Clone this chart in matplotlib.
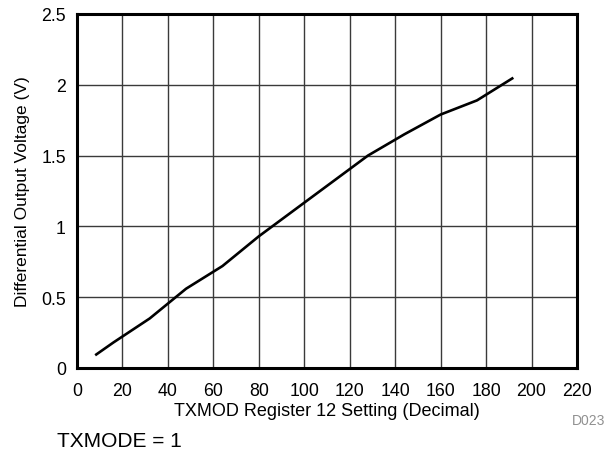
import matplotlib
matplotlib.use("Agg")
import matplotlib.pyplot as plt

# register setting vs differential output voltage (TXMODE = 1)
setting = [8, 16, 32, 48, 64, 80, 96, 112, 128, 144, 160, 176, 192]
voltage = [0.09, 0.18, 0.35, 0.56, 0.72, 0.93, 1.12, 1.31, 1.50, 1.65, 1.79, 1.89, 2.05]

x_ticks = list(range(0, 221, 20))
y_ticks = [0, 0.5, 1, 1.5, 2, 2.5]
y_tick_labels = ["0", "0.5", "1", "1.5", "2", "2.5"]

plt.rcParams["font.family"] = ["Liberation Sans", "DejaVu Sans"]

fig = plt.figure(figsize=(6.13, 4.56), dpi=100)
W, H = 613, 456
ax = fig.add_axes([77 / W, 1 - 369 / H, 500 / W, 354 / H])

ax.plot(setting, voltage, color="black", lw=1.9, solid_capstyle="butt")

ax.set_xlim(0, 220)
ax.set_ylim(0, 2.5)
ax.set_xticks(x_ticks)
ax.set_yticks(y_ticks)
ax.set_yticklabels(y_tick_labels)
ax.tick_params(length=0, labelsize=12.8)
ax.tick_params(axis="x", pad=10)
ax.tick_params(axis="y", pad=8)
ax.grid(True, color="#3a3a3a", lw=1.0)
ax.set_axisbelow(True)
for s in ax.spines.values():
    s.set_linewidth(2.2)
    s.set_color("black")

ax.set_xlabel("TXMOD Register 12 Setting (Decimal)", fontsize=13, labelpad=2)
ax.set_ylabel("Differential Output Voltage (V)", fontsize=12.5, labelpad=8)

fig.text(605 / W, 1 - 421 / H, "D023", fontsize=10, color="#909090",
         ha="right", va="center")
fig.text(57 / W, 1 - 442 / H, "TXMODE = 1", fontsize=15, ha="left", va="center")

fig.savefig("out.png", dpi=100)
